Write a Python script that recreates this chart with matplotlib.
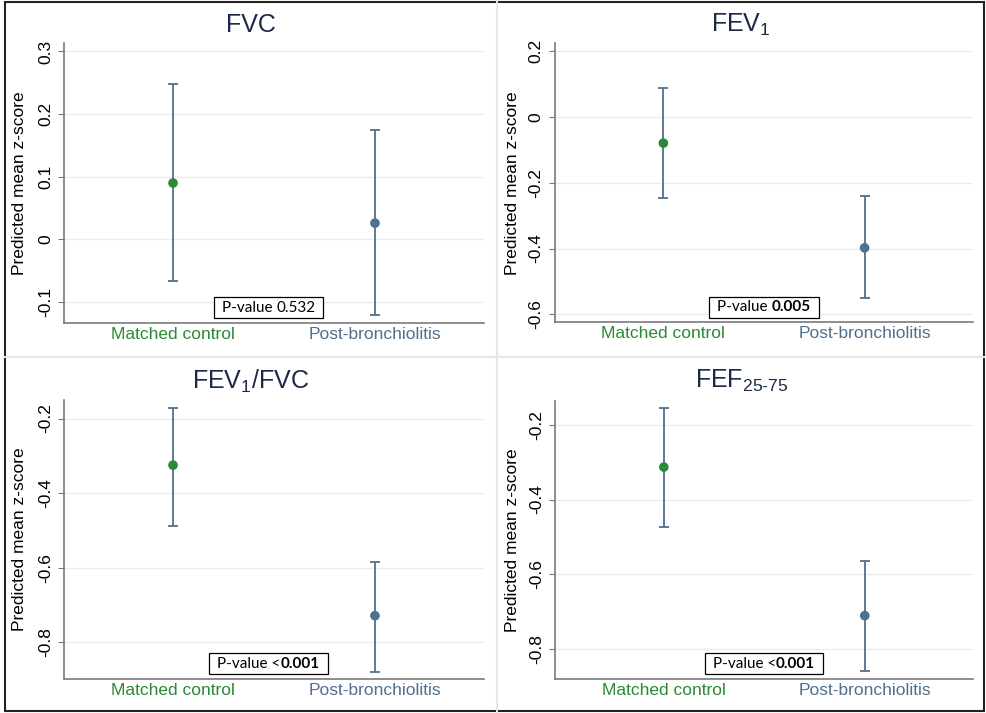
import matplotlib
matplotlib.use("Agg")
import matplotlib.pyplot as plt

plt.rcParams['font.family'] = ['Liberation Sans', 'DejaVu Sans']
plt.rcParams['mathtext.fontset'] = 'custom'
plt.rcParams['mathtext.rm'] = 'Liberation Sans'

# data
groups = ["Matched control", "Post-bronchiolitis"]
titles = [r"FVC", r"FEV$_\mathregular{1}$", r"FEV$_\mathregular{1}$/FVC",
          r"FEF$_\mathregular{25\text{-}75}$"]
fvc_mean = [0.090, 0.026]
fvc_lo = [-0.066, -0.121]
fvc_hi = [0.248, 0.174]
fev1_mean = [-0.080, -0.398]
fev1_lo = [-0.246, -0.549]
fev1_hi = [0.087, -0.241]
ratio_mean = [-0.325, -0.729]
ratio_lo = [-0.487, -0.879]
ratio_hi = [-0.171, -0.585]
fef_mean = [-0.313, -0.711]
fef_lo = [-0.473, -0.860]
fef_hi = [-0.155, -0.564]
pvals = [("P-value ", "0.532", False), ("P-value ", "0.005", True),
         ("P-value <", "0.001", True), ("P-value <", "0.001", True)]
yticks = [[-0.1, 0, 0.1, 0.2, 0.3], [-0.6, -0.4, -0.2, 0, 0.2],
          [-0.8, -0.6, -0.4, -0.2], [-0.8, -0.6, -0.4, -0.2]]
ylims = [(-0.133, 0.313), (-0.624, 0.223), (-0.898, -0.151), (-0.880, -0.136)]

means = [fvc_mean, fev1_mean, ratio_mean, fef_mean]
los = [fvc_lo, fev1_lo, ratio_lo, fef_lo]
his = [fvc_hi, fev1_hi, ratio_hi, fef_hi]

GREEN = "#2b8a36"
BLUE = "#50708f"
NAVY = "#1c2a4a"
W, H = 986, 713

fig = plt.figure(figsize=(W / 100, H / 100), dpi=100)

# axes boxes in pixels: left, top, right, bottom
boxes = [(64, 43.3, 484, 322.7), (554.7, 43.3, 973.3, 322.3),
         (64, 400.3, 484, 678.7), (555.3, 401, 973.3, 678.7)]
panel_left = [0, 493, 0, 493]
title_cx = [251, 741, 251, 742]
title_cy = [25, 25, 381, 381]
box_x = [0.487, 0.5, 0.487, 0.499]
box_y = 0.054

def fmt(v):
    s = ("%g" % round(v, 1))
    return "0" if s in ("0", "-0") else s

rend = fig.canvas.get_renderer()

for i in range(4):
    l, t, r, b = boxes[i]
    ax = fig.add_axes([l / W, 1 - b / H, (r - l) / W, (b - t) / H])
    x = [1, 2]
    yerr_lo = [means[i][k] - los[i][k] for k in range(2)]
    yerr_hi = [his[i][k] - means[i][k] for k in range(2)]
    ax.errorbar(x, means[i], yerr=[yerr_lo, yerr_hi], fmt='none',
                ecolor=BLUE, elinewidth=1.3, capsize=3.5, capthick=1.3, zorder=3)
    ax.scatter(x, means[i], s=48, c=[GREEN, BLUE], zorder=4, edgecolors='none')
    ax.set_xlim(0.46, 2.54)
    ax.set_ylim(*ylims[i])
    ax.set_yticks(yticks[i])
    ax.set_yticklabels([fmt(v) for v in yticks[i]], rotation=90, va='center',
                       fontsize=12.5)
    ax.set_xticks(x)
    ax.set_xticklabels(groups, fontsize=12.5)
    for lab, c in zip(ax.get_xticklabels(), [GREEN, BLUE]):
        lab.set_color(c)
    ax.tick_params(axis='x', length=0, pad=3)
    ax.tick_params(axis='y', length=4, width=0.8, color='#777777', pad=4)
    ax.grid(axis='y', color='#ebebeb', linewidth=0.9)
    ax.set_axisbelow(True)
    for s in ['top', 'right']:
        ax.spines[s].set_visible(False)
    for s in ['left', 'bottom']:
        ax.spines[s].set_color('#7a7a7a')
        ax.spines[s].set_linewidth(1.2)
    ax.set_ylabel("Predicted mean z-score", fontsize=12.5)
    ax.yaxis.set_label_coords(-(l - panel_left[i] - 27) / (r - l), 0.5)

    # P-value box: plain prefix + (bold) value, centred together
    pre, val, bold = pvals[i]
    t0 = ax.text(0, box_y, pre, transform=ax.transAxes, fontsize=11,
                 family=['Lato', 'DejaVu Sans'], ha='left', va='center', zorder=5)
    t1 = ax.text(0, box_y, val, transform=ax.transAxes, fontsize=11,
                 family=['Lato', 'DejaVu Sans'], ha='left', va='center',
                 fontweight='bold' if bold else 'normal', zorder=5)
    w0 = t0.get_window_extent(rend).width
    w1 = t1.get_window_extent(rend).width
    axw = r - l
    axh = b - t
    start = box_x[i] - (w0 + w1) / 2 / axw
    t0.set_x(start)
    t1.set_x(start + w0 / axw)
    pad = 8 / axw
    hh = 20.7 / axh
    rect = plt.Rectangle((start - pad, box_y - hh / 2), (w0 + w1) / axw + 2 * pad,
                         hh, transform=ax.transAxes, facecolor='white',
                         edgecolor='black', linewidth=0.9, zorder=2.5)
    ax.add_patch(rect)

    fig.text(title_cx[i] / W, 1 - title_cy[i] / H, titles[i], fontsize=18,
             color=NAVY, ha='center', va='center')

# panel separators and outer frame
fig.add_artist(plt.Line2D([497 / W, 497 / W], [0, 1], color='#e6e6e6',
                          linewidth=1.5, transform=fig.transFigure))
fig.add_artist(plt.Line2D([5 / W, 984 / W], [1 - 357 / H, 1 - 357 / H],
                          color='#e6e6e6', linewidth=1.5,
                          transform=fig.transFigure))
fig.add_artist(plt.Rectangle((5 / W, 2 / H), 979 / W, 709 / H, fill=False,
                             edgecolor='#222222', linewidth=1.5,
                             transform=fig.transFigure))

fig.savefig("out.png", dpi=100, facecolor='white')
